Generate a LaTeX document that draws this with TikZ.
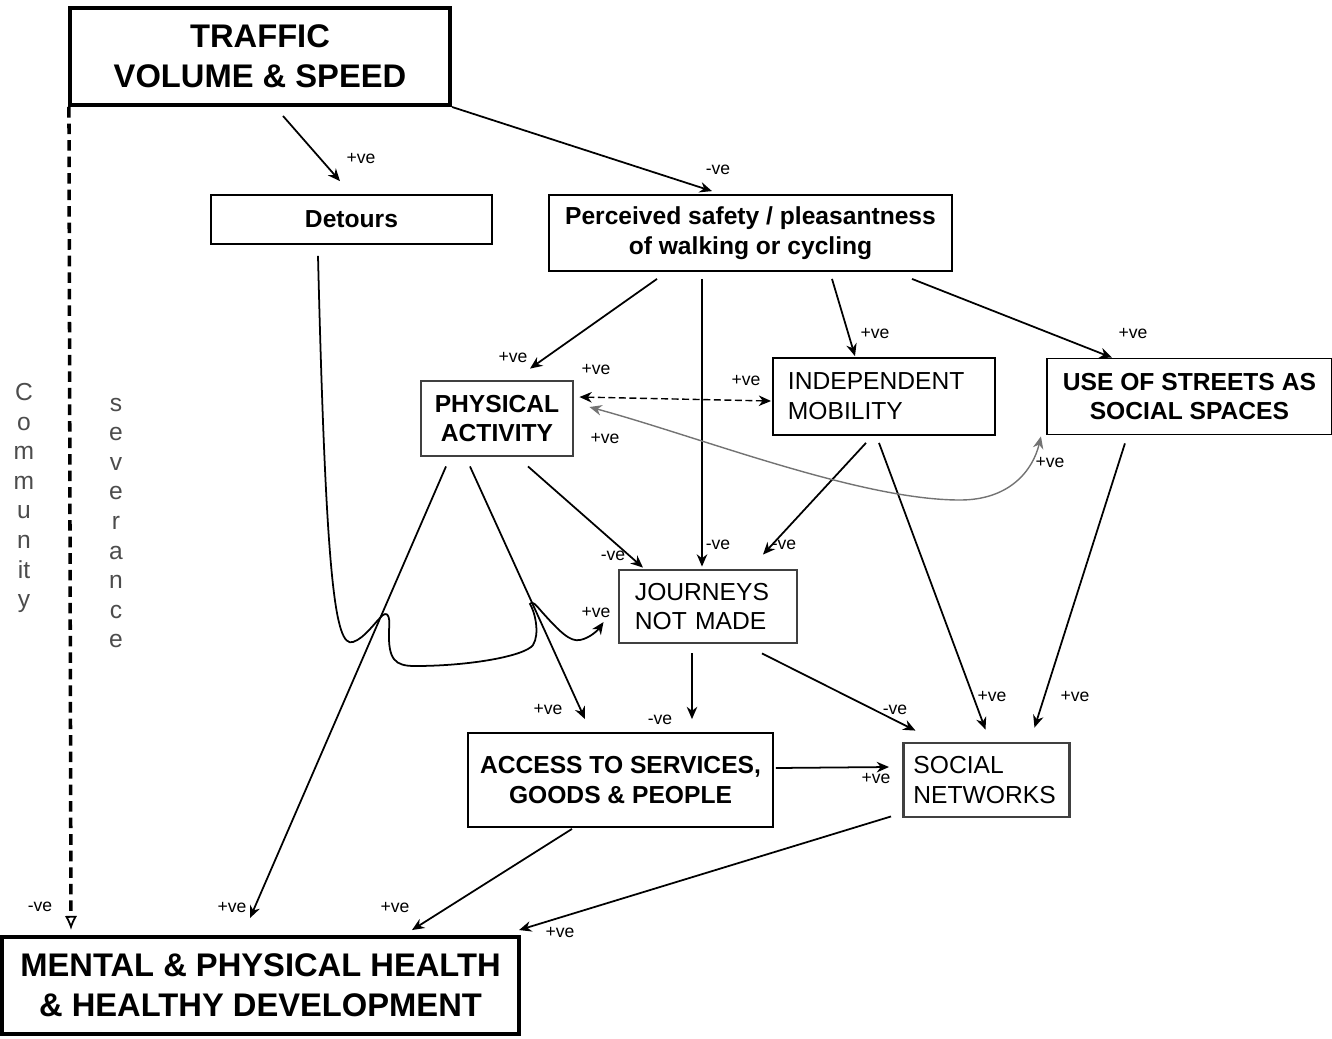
\documentclass[tikz,border=0pt]{standalone}
\usepackage{fontspec}
\setmainfont{Liberation Sans}
\usetikzlibrary{arrows.meta, positioning, calc}

\tikzset{
  >={Stealth[length=3.5pt, width=3pt]},
  box/.style={draw, line width=0.5pt, inner sep=0pt, align=center,
    font=\bfseries\fontsize{7}{8.5}\selectfont},
  bigbox/.style={box, line width=1.1pt, font=\bfseries\fontsize{9.3}{11.4}\selectfont},
  leftbox/.style={box, align=left, inner xsep=0.15cm, font=\fontsize{7}{8.5}\selectfont},
  heavy/.style={draw=black!75, line width=0.8pt},
  lbl/.style={inner sep=0pt, font=\fontsize{5}{6}\selectfont},
  vert/.style={align=center, inner sep=0pt, text=black!70, font=\fontsize{7}{8.42}\selectfont},
  arr/.style={->, line width=0.5pt},
}

\begin{document}
\begin{tikzpicture}[x=0.01cm, y=0.01cm]
  \useasboundingbox (0,0) rectangle (1332,-1038);

  % boxes
  \node[bigbox, minimum width=3.8cm, minimum height=0.97cm] (traffic) at (260,-56.5) {TRAFFIC\\VOLUME \& SPEED};
  \node[box, minimum width=2.81cm, minimum height=0.49cm] (detours) at (351.5,-219.5) {Detours};
  \node[box, minimum width=4.03cm, minimum height=0.76cm] (perceived) at (750.5,-233) {Perceived safety / pleasantness\\of walking or cycling};
  \node[box, heavy, minimum width=1.52cm, minimum height=0.75cm] (physical) at (497,-418.5) {PHYSICAL\\ACTIVITY};
  \node[leftbox, text width=1.92cm, minimum height=0.77cm] (independent) at (884,-396.5) {INDEPENDENT\\MOBILITY};
  \node[box, minimum width=2.85cm, minimum height=0.76cm, right=0.5cm of independent] (streets) {USE OF STREETS AS\\SOCIAL SPACES};
  \node[leftbox, heavy, text width=1.46cm, inner xsep=0.16cm, minimum height=0.73cm] (journeys) at (708,-606.5) {JOURNEYS\\NOT MADE};
  \node[box, minimum width=3.05cm, minimum height=0.94cm] (access) at (620.5,-780) {ACCESS TO SERVICES,\\GOODS \& PEOPLE};
  \node[leftbox, heavy, text width=1.46cm, inner xsep=0.1cm, minimum height=0.74cm, right=1.28cm of access] (social) {SOCIAL\\NETWORKS};
  \node[bigbox, minimum width=5.17cm, minimum height=0.97cm] (mental) at (260.5,-985.5) {MENTAL \& PHYSICAL HEALTH\\\& HEALTHY DEVELOPMENT};

  % community severance
  \node[vert] (community) at (24,-498) {C\\o\\m\\m\\u\\n\\it\\y};
  \node[vert] (severance) at (116,-523) {s\\e\\v\\e\\r\\a\\n\\c\\e};
  \draw[line width=1pt, dash pattern=on 3pt off 1.7pt,
    -{Latex[open, length=4pt, width=3.5pt, line width=0.5pt]}]
    ($(traffic.south west)+(1,0)$) -- ($(mental.north)+(-189.5,5)$);

  % straight links
  \path[arr]
    ($(traffic.south)+(23,-9)$) edge ($(detours.north)+(-11.5,13)$)
    (traffic.south east) edge ($(perceived.north)+(-38.5,3)$)
    ($(perceived.south)+(-93.5,-7)$) edge ($(physical.north)+(33,11)$)
    ($(perceived.south)+(-48.5,-7)$) edge ($(journeys.north)+(-6,2)$)
    ($(perceived.south)+(81.5,-7)$) edge ($(independent.north)+(-29,1)$)
    ($(perceived.south)+(161.5,-7)$) edge ($(streets.north)+(-77.5,0)$)
    ($(physical.south)+(31,-9)$) edge ($(journeys.north)+(-65,1)$)
    ($(physical.south)+(-51,-9)$) edge ($(mental.north)+(-10.5,17)$)
    ($(physical.south)+(-27,-9)$) edge ($(access.north)+(-35.5,13)$)
    ($(independent.south)+(-18,-7)$) edge ($(journeys.north)+(55,14)$)
    ($(independent.south)+(-5,-7)$) edge ($(social.north)+(-1,12)$)
    ($(streets.south)+(-64.5,-8)$) edge ($(social.north)+(48,14)$)
    ($(journeys.south)+(-16,-9)$) edge ($(access.north)+(71.5,13)$)
    ($(journeys.south)+(54,-9)$) edge ($(social.north)+(-71,11)$)
    ($(access.east)+(2,12)$) edge ($(social.west)+(-13,13)$)
    ($(access.south)+(-48.5,-1)$) edge ($(mental.north)+(151.5,5)$)
    ($(social.south west)+(-11,2)$) edge ($(mental.north east)+(-2,5)$);

  % two-way links
  \draw[<->, line width=0.4pt, dash pattern=on 2pt off 1pt]
    ($(physical.east)+(5,21.5)$) -- ($(independent.west)+(-1,-4.5)$);
  \draw[<->, black!55, line width=0.4pt]
    ($(physical.east)+(15,11.5)$) .. controls (700,-437) and (860,-500) .. (960,-500)
    .. controls (1010,-500) and (1033,-470) .. ($(streets.south west)+(-5,-1)$);

  % detours route
  \draw[arr]
    ($(detours.south)+(-33.5,-11)$) .. controls (326,-580) and (335,-648) .. (353,-642)
    .. controls (365,-638) and (375,-622) .. (383,-615)
    .. controls (389,-611) and (390,-620) .. (389,-630)
    .. controls (388,-660) and (395,-666) .. (415,-666)
    .. controls (470,-666) and (525,-656) .. (533,-645)
    .. controls (540,-634) and (535,-612) .. (530,-604)
    .. controls (532,-600) and (536,-605) .. (542,-612)
    .. controls (560,-632) and (570,-642) .. (580,-640)
    .. controls (590,-638) and (598,-630) .. ($(journeys.west)+(-14,-15.5)$);

  % labels
  \node[lbl] (l-trafdet) at (361,-158) {+ve};
  \node[lbl] (l-trafperc) at (718,-170) {-ve};
  \node[lbl] (l-trafment) at (40,-907) {-ve};
  \node[lbl] (l-detjour) at (596,-612) {+ve};
  \node[lbl] (l-percphys) at (513,-357) {+ve};
  \node[lbl] (l-percjour) at (718,-545) {-ve};
  \node[lbl] (l-percind) at (875,-333) {+ve};
  \node[lbl] (l-percstr) at (1133,-333) {+ve};
  \node[lbl] (l-physind) at (596,-369) {+ve};
  \node[lbl] (l-indphys) at (746,-380) {+ve};
  \node[lbl] (l-physstr) at (605,-438) {+ve};
  \node[lbl] (l-strphys) at (1050,-462) {+ve};
  \node[lbl] (l-physjour) at (613,-556) {-ve};
  \node[lbl] (l-indjour) at (784,-545) {-ve};
  \node[lbl] (l-indsoc) at (992,-696) {+ve};
  \node[lbl] (l-strsoc) at (1075,-696) {+ve};
  \node[lbl] (l-physment) at (232,-907) {+ve};
  \node[lbl] (l-physacc) at (548,-709) {+ve};
  \node[lbl] (l-jouracc) at (660,-720) {-ve};
  \node[lbl] (l-joursoc) at (895,-710) {-ve};
  \node[lbl] (l-accsoc) at (876,-778) {+ve};
  \node[lbl] (l-accment) at (395,-907) {+ve};
  \node[lbl] (l-socment) at (560,-932) {+ve};
\end{tikzpicture}
\end{document}
